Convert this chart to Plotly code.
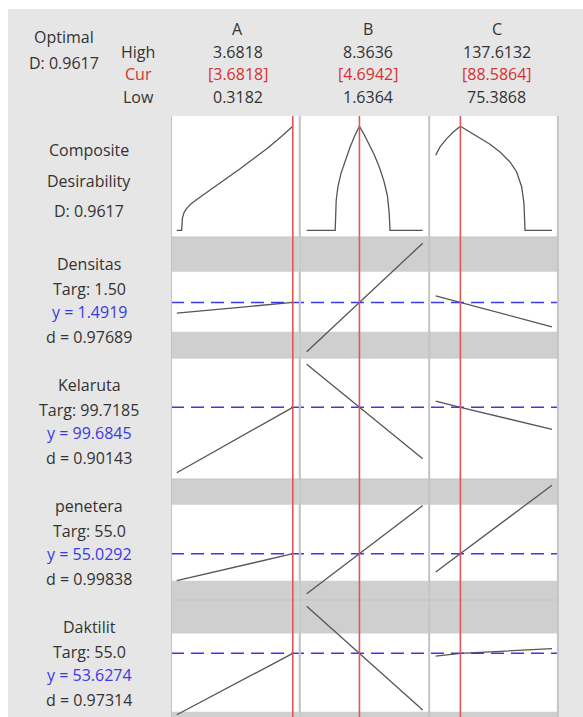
import plotly.graph_objects as go

W, H = 583, 717

# ---- factor settings -------------------------------------------------------
factors = ["A", "B", "C"]
f_low = [0.3182, 1.6364, 75.3868]
f_high = [3.6818, 8.3636, 137.6132]
f_cur = [3.6818, 4.6942, 88.5864]

D_opt = 0.9617

# ---- composite desirability traces (one per factor) ------------------------
compA_x = [0.3182, 0.4574, 0.4806, 0.5299, 0.6169, 0.7329, 0.9069, 1.1388,
           1.4288, 1.7768, 2.1538, 2.5598, 2.9657, 3.3427, 3.6818]
compA_d = [0.0, 0.0, 0.111, 0.1665, 0.208, 0.245, 0.287, 0.338,
           0.402, 0.481, 0.569, 0.666, 0.763, 0.865, 0.9617]

compB_x = [1.6364, 3.2892, 3.3472, 3.4516, 3.6256, 3.8575, 4.1475, 4.4375,
           4.6942, 4.9594, 5.2494, 5.5393, 5.8293, 6.1193, 6.3222, 6.4208,
           6.4672, 8.3636]
compB_d = [0.0, 0.0, 0.2775, 0.407, 0.527, 0.638, 0.768, 0.879,
           0.9617, 0.888, 0.800, 0.703, 0.592, 0.453, 0.315, 0.157,
           0.0, 0.0]

compC_x = [75.3868, 77.6875, 81.2724, 84.8037, 88.5864, 93.7390, 99.0895,
           104.4400, 109.7905, 115.1410, 118.7259, 121.4011, 122.6317,
           123.1668, 137.6132]
compC_d = [0.694, 0.771, 0.848, 0.909, 0.9617, 0.909, 0.858,
           0.796, 0.724, 0.632, 0.539, 0.401, 0.247,
           0.0, 0.0]

comp_x = [compA_x, compB_x, compC_x]
comp_d = [compA_d, compB_d, compC_d]

# ---- responses ---------------------------------------------------------------
responses = ["Densitas", "Kelaruta", "penetera", "Daktilit"]
targets = ["1.50", "99.7185", "55.0", "55.0"]
y_cur = [1.4919, 99.6845, 55.0292, 53.6274]
d_val = [0.97689, 0.90143, 0.99838, 0.97314]
lower_bound = [1.15, 99.37, 45.1, 45.16]
upper_bound = [1.85, 100.07, 73.0, 56.5]

# predicted response at (low, current, high) of each factor
dens_A = [1.3682, 1.4919, 1.4919]
dens_B = [0.917, 1.4919, 2.182]
dens_C = [1.569, 1.4919, 1.207]

kel_A = [99.5539, 99.6845, 99.6845]
kel_B = [99.7705, 99.6845, 99.5819]
kel_C = [99.6971, 99.6845, 99.6405]

pen_A = [45.098, 55.0292, 55.0292]
pen_B = [40.31, 55.0292, 72.69]
pen_C = [48.26, 55.0292, 80.16]

dak_A = [44.724, 53.6274, 53.6274]
dak_B = [60.46, 53.6274, 45.42]
dak_C = [53.24, 53.6274, 54.30]

pred = [
    [dens_A, dens_B, dens_C],
    [kel_A, kel_B, kel_C],
    [pen_A, pen_B, pen_C],
    [dak_A, dak_B, dak_C],
]

# ---- layout geometry (pixels) ----------------------------------------------
col_px = [(171.0, 298.6), (300.9, 428.5), (429.9, 557.8)]
row_tops = [116, 237, 358, 479, 600]
row_h = 121
plot_left, plot_right, plot_top = 171, 558, 116

TXT = "#333333"
RED = "rgb(214,48,48)"
BLUE = "rgb(58,58,226)"
CURVE = "#555555"
BAND = "#cfcfcf"
SEP = "#c4c4c4"
FONT = "Open Sans"


def fx(p):
    return p / W


def fy(p):
    return 1 - p / H


fig = go.Figure()
layout = dict(
    width=W, height=H, margin=dict(l=0, r=0, t=0, b=0),
    paper_bgcolor="#e6e6e6", plot_bgcolor="white", showlegend=False,
    font=dict(family=FONT, size=16, color=TXT),
)
shapes = []
annotations = []


def axis_range(lo, hi, top, pad):
    span = hi - lo
    r0, r1 = lo - pad * span, hi + pad * span
    bottom = top + row_h
    if bottom > H:
        r0 = r1 - (r1 - r0) * (H - top) / row_h
        bottom = H
    return [r0, r1], bottom


for r in range(5):
    top = row_tops[r]
    if r == 0:
        yr, bottom = [-0.062, 1.057], top + row_h
    else:
        vals = [v for f in pred[r - 1] for v in f]
        yr, bottom = axis_range(min(vals), max(vals), top, 0.0576)
    for c in range(3):
        k = r * 3 + c + 1
        xs = "" if k == 1 else str(k)
        span = f_high[c] - f_low[c]
        xr = [f_low[c] - 0.05 * span, f_high[c] + 0.05 * span]
        x0p, x1p = col_px[c]
        layout["xaxis" + xs] = dict(domain=[fx(x0p), fx(x1p)], range=xr, visible=False,
                                     fixedrange=True, anchor="y" + xs)
        layout["yaxis" + xs] = dict(domain=[fy(bottom), fy(top)], range=yr, visible=False,
                                     fixedrange=True, anchor="x" + xs)
        if r == 0:
            fig.add_trace(go.Scatter(x=comp_x[c], y=comp_d[c], mode="lines",
                                     line=dict(color=CURVE, width=1.3),
                                     xaxis="x" + xs, yaxis="y" + xs, hoverinfo="skip"))
        else:
            i = r - 1
            # shaded regions outside the response limits
            if lower_bound[i] > yr[0]:
                shapes.append(dict(type="rect", xref="x" + xs + " domain", yref="y" + xs,
                                   x0=0, x1=1, y0=yr[0], y1=lower_bound[i],
                                   fillcolor=BAND, line_width=0, layer="below"))
            if upper_bound[i] < yr[1]:
                shapes.append(dict(type="rect", xref="x" + xs + " domain", yref="y" + xs,
                                   x0=0, x1=1, y0=upper_bound[i], y1=yr[1],
                                   fillcolor=BAND, line_width=0, layer="below"))
            fig.add_trace(go.Scatter(x=[f_low[c], f_cur[c], f_high[c]], y=pred[i][c],
                                     mode="lines", line=dict(color=CURVE, width=1.3),
                                     xaxis="x" + xs, yaxis="y" + xs, hoverinfo="skip"))
            if c == 0:
                # current predicted response across all factor columns
                shapes.append(dict(type="line", xref="paper", yref="y" + xs,
                                   x0=fx(plot_left), x1=fx(plot_right),
                                   y0=y_cur[i], y1=y_cur[i],
                                   line=dict(color=BLUE, width=1.5, dash="13px,7px")))

# separators between columns and rows
for xp, wd in [(plot_left + 0.5, 1), (299.8, 2), (429.2, 2), (557.9, 2)]:
    shapes.append(dict(type="line", xref="paper", yref="paper",
                       x0=fx(xp), x1=fx(xp), y0=0, y1=fy(plot_top),
                       line=dict(color=SEP, width=wd)))
for yp in row_tops[1:]:
    shapes.append(dict(type="line", xref="paper", yref="paper",
                       x0=fx(plot_left), x1=fx(plot_right), y0=fy(yp), y1=fy(yp),
                       line=dict(color=SEP, width=1.2)))

# current factor settings
for c in range(3):
    xs = "" if c == 0 else str(c + 1)
    shapes.append(dict(type="line", xref="x" + xs, yref="paper",
                       x0=f_cur[c], x1=f_cur[c], y0=0, y1=fy(plot_top),
                       line=dict(color="rgb(222,88,88)", width=1.6)))

# white page edge
shapes.append(dict(type="rect", xref="paper", yref="paper", x0=0, x1=1,
                   y0=fy(9), y1=1, fillcolor="white", line_width=0))
shapes.append(dict(type="rect", xref="paper", yref="paper", x0=0, x1=fx(8),
                   y0=0, y1=1, fillcolor="white", line_width=0))


def label(text, xp, yp, color=TXT):
    annotations.append(dict(text=text, x=fx(xp), y=fy(yp), xref="paper", yref="paper",
                            xanchor="center", yanchor="middle", showarrow=False,
                            font=dict(family=FONT, size=16, color=color)))


# header block
label("Optimal", 64, 36.5)
label(f"D: {D_opt:.4f}", 64, 63)
label("High", 138, 51.5)
label("Cur", 138, 74, RED)
label("Low", 138, 96.5)
head_x = [237.5, 367.5, 496.5]
for c in range(3):
    label(factors[c], head_x[c], 28.5)
    label(f"{f_high[c]:.4f}", head_x[c], 51.5)
    label(f"[{f_cur[c]:.4f}]", head_x[c], 74, RED)
    label(f"{f_low[c]:.4f}", head_x[c], 96.5)

# row labels
label("Composite", 89, 150)
label("Desirability", 89, 180.5)
label(f"D: {D_opt:.4f}", 89, 210.5)
for i in range(4):
    t = row_tops[i + 1]
    label(responses[i], 89, t + 27)
    label(f"Targ: {targets[i]}", 89, t + 51.5)
    label(f"y = {y_cur[i]:.4f}", 89, t + 75, BLUE)
    label(f"d = {d_val[i]:.5f}", 89, t + 99.7)

layout["shapes"] = shapes
layout["annotations"] = annotations
fig.update_layout(**layout)
fig.write_html("out.html")
